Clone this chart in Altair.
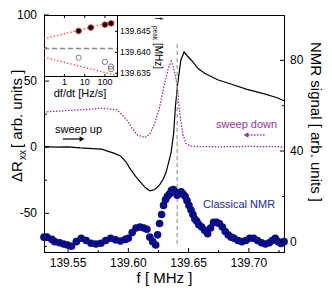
import altair as alt
import pandas as pd

# ---- sweep up (black, left axis) ----
up_f = [139.530, 139.540, 139.550, 139.560, 139.570, 139.578, 139.5826, 139.588, 139.5934, 139.598,
        139.6015, 139.606, 139.6097, 139.614, 139.6178, 139.622, 139.6259, 139.629, 139.6314, 139.6355,
        139.6376, 139.6390, 139.6408, 139.6436, 139.6463, 139.6490, 139.6525, 139.6579, 139.6633, 139.6741,
        139.6850, 139.6985, 139.7121, 139.7229, 139.7292]
up_v = [0.5, 0, 0.3, -0.5, -1, -1.5, -3, -4.5, -6.6, -11,
        -16.4, -22, -26, -30.5, -33, -32, -28.5, -24, -18.8, -4,
        10.7, 30, 47, 66, 72, 69, 65.6, 59.5, 55.9, 51,
        47.8, 43.7, 40.5, 37.6, 35.1]

# ---- sweep down (purple, left axis) ----
down_f = [139.530, 139.540, 139.5501, 139.565, 139.5772, 139.5907, 139.5989, 139.6030, 139.6070, 139.6137,
          139.6178, 139.6219, 139.6259, 139.6300, 139.6333, 139.6355, 139.6373, 139.6390, 139.6408, 139.6422,
          139.6438, 139.6454, 139.6479, 139.6511, 139.6585, 139.6748, 139.6992, 139.7292]
down_v = [26.6, 27.2, 27.8, 28.5, 29.5, 28.3, 20.5, 14.5, 9.5, 7.3,
          10, 18, 30, 48, 60, 65, 61, 54, 45, 30,
          18, 9, 3, 1, 0.5, 0.3, 0.6, 0.3]

# ---- classical NMR (blue, right axis) ----
nmr_f = [139.5300, 139.5324, 139.5365, 139.5389, 139.5430, 139.5463, 139.5495, 139.5528, 139.5568, 139.5609,
         139.5650, 139.5690, 139.5731, 139.5772, 139.5812, 139.5853, 139.5893, 139.5934, 139.5975, 139.5999,
         139.6032, 139.6064, 139.6097, 139.6129, 139.6154, 139.6178, 139.6202, 139.6227, 139.6243, 139.6259,
         139.6276, 139.6292, 139.6308, 139.6324, 139.6341, 139.6357, 139.6373, 139.6389, 139.6406, 139.6422,
         139.6438, 139.6454, 139.6471, 139.6487, 139.6503, 139.6520, 139.6536, 139.6552, 139.6568, 139.6585,
         139.6609, 139.6633, 139.6658, 139.6682, 139.6707, 139.6731, 139.6755, 139.6780, 139.6804, 139.6828,
         139.6853, 139.6877, 139.6910, 139.6942, 139.6975, 139.7007, 139.7040, 139.7072, 139.7105, 139.7137,
         139.7170, 139.7194, 139.7219, 139.7243, 139.7267, 139.7292]
nmr_v = [2, 2, 1, 0, -0.5, -1, -1.5, -2, 0, 1.5,
         0.5, -0.7, -1, -0.7, 0.5, 1.5, 0.8, 0.3, 1, 1.5,
         4, 6, 6.5, 6, 5.5, 2, 0, -1.5, 3, 8,
         12, 16, 18.5, 20, 21, 22.5, 23, 22, 20.5, 21.5,
         22, 21, 20, 18, 16, 14, 12, 10, 9, 7.5,
         6.5, 5, 3.5, 6, 8.5, 8.5, 8, 6.5, 4.5, 3,
         2, 1.5, 0.5, 0, 0.5, 1.5, 1.5, 0.5, -0.5, -1,
         -0.5, 0.5, 1.5, 0, -0.8, 0]

# ---- inset ----
fast_rate = [5, 20, 100, 200]
fast_peak = [139.6451, 139.6459, 139.6466, 139.6469]
open_rate = [5, 100, 200, 200]
open_peak = [139.6387, 139.6377, 139.6366, 139.6360]
fit_rate = [0.098, 440]
fit_upper = [139.6432, 139.6476]
fit_lower = [139.6388, 139.6344]
center_peak = 139.6409
center_f = 139.6405

# ---- ticks and tick labels ----
x_major = [139.55, 139.60, 139.65, 139.70]
x_labels = ["139.55", "139.60", "139.65", "139.70"]
x_minor = [139.575, 139.625, 139.675, 139.725]
l_major = [-50, 0, 50, 100]
l_labels = ["-50", "0", "50", "100"]
l_minor = [-75, -25, 25, 75]
r_major = [0, 40, 80]
r_labels = ["0", "40", "80"]
r_minor = [20, 60]
ix_ticks = [1, 10, 100]
ix_labels = ["1", "10", "100"]
iy_ticks = [139.635, 139.640, 139.645]
iy_labels = ["139.635", "139.640", "139.645"]

W, H = 241, 238
IW, IH = 74, 62
FONT = "Liberation Sans"
PURPLE = "#993399"
NAVY = "#0b0b85"

fx = alt.Scale(domain=[139.53, 139.73], nice=False, zero=False)
fy = alt.Scale(domain=[-80, 100], nice=False, zero=False)
ny = alt.Scale(domain=[-5, 100], nice=False, zero=False)
ix = alt.Scale(type="log", domain=[0.098, 440], range=[0, IW], nice=False)
iy = alt.Scale(domain=[139.6341, 139.6489], range=[IH, 0], nice=False, zero=False)

one = pd.DataFrame({"a": [0]})


def txt(s, x, y, size=11, color="black", angle=0, align="left", baseline="middle"):
    kw = dict(text=s, fontSize=size, color=color, font=FONT, align=align, baseline=baseline)
    if angle:
        kw["angle"] = angle
    return alt.Chart(one).mark_text(**kw).encode(x=alt.value(x), y=alt.value(y))


def seg(x, x2, y, y2, color="black", width=1, dash=None):
    kw = dict(color=color, strokeWidth=width)
    if dash:
        kw["strokeDash"] = dash
    return alt.Chart(one).mark_rule(**kw).encode(
        x=alt.value(x), x2=alt.value(x2), y=alt.value(y), y2=alt.value(y2))


def X(field, scale):
    return alt.X(field, scale=scale, axis=None)


def Y(field, scale):
    return alt.Y(field, scale=scale, axis=None)


# ---------------- main (left axis) ----------------
up = alt.Chart(pd.DataFrame({"f": up_f, "v": up_v})).mark_line(
    color="black", strokeWidth=1.2).encode(x=X("f:Q", fx), y=Y("v:Q", fy))
down = alt.Chart(pd.DataFrame({"f": down_f, "v": down_v})).mark_line(
    color=PURPLE, strokeWidth=1.3, strokeDash=[1.5, 1.5]).encode(x=X("f:Q", fx), y=Y("v:Q", fy))
vline = alt.Chart(pd.DataFrame({"f": [center_f], "v1": [78], "v2": [-73]})).mark_rule(
    color="#9a9a9a", strokeDash=[4, 3], strokeWidth=1.2).encode(
    x=X("f:Q", fx), y=Y("v1:Q", fy), y2="v2:Q")

xt_major = alt.Chart(pd.DataFrame({"f": x_major})).mark_rule(color="black").encode(
    x=X("f:Q", fx), y=alt.value(H), y2=alt.value(H - 5))
xt_minor = alt.Chart(pd.DataFrame({"f": x_minor})).mark_rule(color="black").encode(
    x=X("f:Q", fx), y=alt.value(H), y2=alt.value(H - 3))
x_lab = alt.Chart(pd.DataFrame({"f": x_major, "t": x_labels})).mark_text(
    fontSize=12, font=FONT, color="black", align="center", baseline="middle").encode(
    x=X("f:Q", fx), y=alt.value(H + 10), text="t:N")
lt_major = alt.Chart(pd.DataFrame({"v": l_major})).mark_rule(color="black").encode(
    y=Y("v:Q", fy), x=alt.value(0), x2=alt.value(5))
lt_minor = alt.Chart(pd.DataFrame({"v": l_minor})).mark_rule(color="black").encode(
    y=Y("v:Q", fy), x=alt.value(0), x2=alt.value(3))
l_lab = alt.Chart(pd.DataFrame({"v": l_major, "t": l_labels})).mark_text(
    fontSize=12, font=FONT, color="black", align="right", baseline="middle").encode(
    y=Y("v:Q", fy), x=alt.value(-7), text="t:N")

arrow_up_head = alt.Chart(one).mark_point(shape="triangle-right", filled=True, color="black",
                                          size=30, opacity=1).encode(x=alt.value(38), y=alt.value(124))
arrow_dn_head = alt.Chart(one).mark_point(shape="triangle-left", filled=True, color=PURPLE,
                                          size=30, opacity=1).encode(x=alt.value(202), y=alt.value(120))

labels = [
    txt("sweep up", 11, 115, 11),
    txt("sweep down", 172, 110, 11, PURPLE),
    txt("f  [ MHz ]", W / 2, 263, 15, align="center"),
    txt("NMR signal  [ arb. units ]", 272, 107, 15, angle=90, align="center"),
    txt("\u0394R", -22, 167, 15, angle=270, baseline="alphabetic"),
    txt("xx", -18, 145, 10, angle=270, baseline="alphabetic"),
    txt("[ arb. units ]", -22, 133, 15, angle=270, baseline="alphabetic"),
]

frame = [seg(0.5, 0.5, 0, H), seg(W - 0.5, W - 0.5, 0, H), seg(0, W, 0.5, 0.5), seg(0, W, H - 0.5, H - 0.5)]

main = alt.layer(up, down, vline, xt_major, xt_minor, x_lab, lt_major, lt_minor, l_lab,
                 seg(19, 36, 124, 124, width=1.2), arrow_up_head,
                 seg(204, 221, 120, 120, PURPLE, 1.3, [1.5, 1.5]), arrow_dn_head, *labels, *frame)

# ---------------- NMR (right axis) ----------------
nmr_pts = alt.Chart(pd.DataFrame({"f": nmr_f, "s": nmr_v})).mark_circle(
    color=NAVY, size=58, opacity=1).encode(x=X("f:Q", fx), y=Y("s:Q", ny))
rt_major = alt.Chart(pd.DataFrame({"s": r_major})).mark_rule(color="black").encode(
    y=Y("s:Q", ny), x=alt.value(W), x2=alt.value(W - 5))
rt_minor = alt.Chart(pd.DataFrame({"s": r_minor})).mark_rule(color="black").encode(
    y=Y("s:Q", ny), x=alt.value(W), x2=alt.value(W - 3))
r_lab = alt.Chart(pd.DataFrame({"s": r_major, "t": r_labels})).mark_text(
    fontSize=12, font=FONT, color="black", align="left", baseline="middle").encode(
    y=Y("s:Q", ny), x=alt.value(W + 5), text="t:N")
nmr = alt.layer(nmr_pts, rt_major, rt_minor, r_lab, txt("Classical NMR", 159, 190, 11, "#1f1fa0"))

# ---------------- inset ----------------
fits = pd.DataFrame({
    "r": fit_rate + fit_rate,
    "p": fit_upper + fit_lower,
    "g": ["u", "u", "l", "l"],
})
fit_lines = alt.Chart(fits).mark_line(color="#ff2a2a", strokeWidth=1.3, strokeDash=[1.2, 2.2]).encode(
    x=X("r:Q", ix), y=Y("p:Q", iy), detail="g:N")
center_line = alt.Chart(pd.DataFrame({"r": fit_rate, "p": [center_peak, center_peak]})).mark_line(
    color="#888888", strokeWidth=1.3, strokeDash=[5, 3]).encode(x=X("r:Q", ix), y=Y("p:Q", iy))
fast_pts = alt.Chart(pd.DataFrame({"r": fast_rate, "p": fast_peak})).mark_circle(
    color="black", stroke="#e02020", strokeWidth=1, size=30, opacity=1).encode(
    x=X("r:Q", ix), y=Y("p:Q", iy))
open_pts = alt.Chart(pd.DataFrame({"r": open_rate, "p": open_peak})).mark_point(
    shape="circle", filled=False, color="#707070", strokeWidth=0.9, size=28, opacity=1).encode(
    x=X("r:Q", ix), y=Y("p:Q", iy))
ixt_b = alt.Chart(pd.DataFrame({"r": ix_ticks})).mark_rule(color="black").encode(
    x=X("r:Q", ix), y=alt.value(IH), y2=alt.value(IH - 3))
ixt_t = alt.Chart(pd.DataFrame({"r": ix_ticks})).mark_rule(color="black").encode(
    x=X("r:Q", ix), y=alt.value(0), y2=alt.value(3))
iyt = alt.Chart(pd.DataFrame({"p": iy_ticks})).mark_rule(color="black").encode(
    y=Y("p:Q", iy), x=alt.value(IW), x2=alt.value(IW - 3))
ix_lab = alt.Chart(pd.DataFrame({"r": ix_ticks, "t": ix_labels})).mark_text(
    fontSize=9, font=FONT, color="black", baseline="middle", align="center").encode(
    x=X("r:Q", ix), y=alt.value(IH + 5), text="t:N")
iy_lab = alt.Chart(pd.DataFrame({"p": iy_ticks, "t": iy_labels})).mark_text(
    fontSize=8.5, font=FONT, color="black", baseline="middle", align="left").encode(
    y=Y("p:Q", iy), x=alt.value(IW + 2), text="t:N")

inset = alt.layer(
    fit_lines, center_line, fast_pts, open_pts, ixt_b, ixt_t, iyt, ix_lab, iy_lab,
    seg(0, IW, IH - 0.5, IH - 0.5), seg(IW - 0.5, IW - 0.5, 0, IH),
    txt("df/dt [Hz/s]", 36, IH + 17, 11, align="center"),
    txt("f", 111, 2, 10, angle=90, baseline="alphabetic"),
    txt("peak", 108.5, 11, 6.5, angle=90, baseline="alphabetic"),
    txt("[MHz]", 111, 28, 10, angle=90, baseline="alphabetic"),
)

chart = alt.layer(main, nmr, inset).resolve_scale(x="independent", y="independent").properties(
    width=W, height=H,
    padding={"left": 36, "top": 7, "right": 39, "bottom": 33},
    autosize=alt.AutoSizeParams(type="none"),
).configure_view(strokeWidth=0)

chart.save("out.html", embed_options={"renderer": "svg", "actions": False})
